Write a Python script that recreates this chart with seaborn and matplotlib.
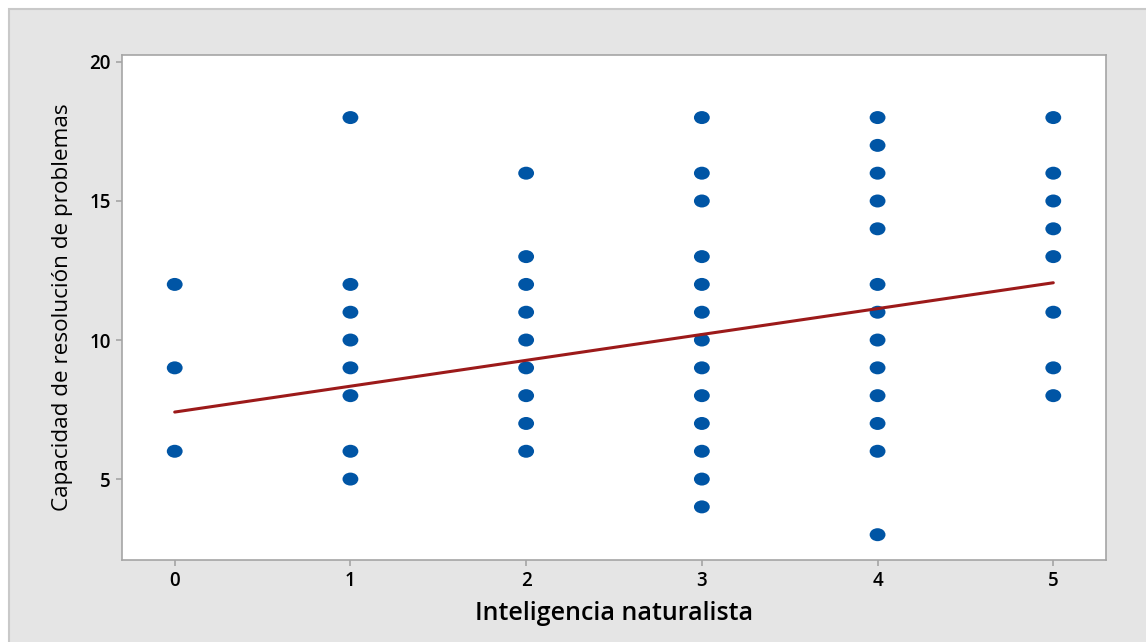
import numpy as np
import pandas as pd
import matplotlib
matplotlib.use("Agg")
import matplotlib.pyplot as plt
from matplotlib.path import Path
from matplotlib.transforms import Affine2D
from matplotlib.patches import Rectangle
import seaborn as sns

# Observed scores (duplicated pairs coincide on the plot)
naturalista_0 = [12, 9, 6]
naturalista_1 = [18, 12, 11, 10, 9, 8, 6, 5]
naturalista_2 = [16, 13, 12, 11, 10, 9, 8, 7, 6]
naturalista_3 = [18, 16, 15, 13, 12, 11, 10, 9, 8, 7, 6, 5, 4]
naturalista_4 = [18, 17, 16, 15, 14, 12, 11, 10, 9, 8, 7, 6, 3]
naturalista_5 = [18, 16, 15, 14, 13, 11, 9, 8]

# Fitted regression line: y = intercept + slope * x
fit_intercept = 7.41
fit_slope = 0.93

x_ticks = [0, 1, 2, 3, 4, 5]
y_ticks = [5, 10, 15, 20]

groups = [naturalista_0, naturalista_1, naturalista_2,
          naturalista_3, naturalista_4, naturalista_5]
df = pd.DataFrame(
    [(x, y) for x, ys in zip(x_ticks, groups) for y in ys],
    columns=["Inteligencia naturalista", "Capacidad de resolución de problemas"],
)
fit_x = np.array([x_ticks[0], x_ticks[-1]], dtype=float)
fit_df = pd.DataFrame({"x": fit_x, "y": fit_intercept + fit_slope * fit_x})

sns.set_style("white")
plt.rcParams["font.family"] = ["Open Sans", "DejaVu Sans"]

fig = plt.figure(figsize=(11.46, 6.42), dpi=100, facecolor="white")
# grey panel behind the chart
fig.patches.append(Rectangle((9 / 1146, -0.05), 1.1, 1.05 - 9 / 642,
                             transform=fig.transFigure, facecolor="#e5e5e5",
                             edgecolor="#c9c9c9", linewidth=1.5, zorder=-1))

ax = fig.add_axes([122 / 1146, 1 - 560 / 642, (1106 - 122) / 1146, (560 - 55) / 642])
ax.set_facecolor("white")

# slightly wide elliptical marker
ellipse = Path.unit_circle().transformed(Affine2D().scale(1.22, 1.0))

sns.scatterplot(data=df, x="Inteligencia naturalista",
                y="Capacidad de resolución de problemas",
                marker=ellipse, s=130, color="#0055a5", edgecolor="none",
                linewidth=0, ax=ax, zorder=3)
sns.lineplot(data=fit_df, x="x", y="y", color="#9c1a1a", linewidth=2.2,
             ax=ax, zorder=4)

ax.set_xlim(-0.30, 5.30)
ax.set_ylim(2.09, 20.25)
ax.set_xticks(x_ticks)
ax.set_yticks(y_ticks)

for s in ax.spines.values():
    s.set_color("#a5a5a5")
    s.set_linewidth(1.2)
ax.tick_params(axis="both", which="major", direction="out", length=4,
               width=1.2, color="#a5a5a5", labelsize=13.5, labelcolor="black",
               pad=4, bottom=True, left=True)
for lab in ax.get_xticklabels() + ax.get_yticklabels():
    lab.set_fontweight("semibold")

ax.set_xlabel("Inteligencia naturalista", fontsize=18, fontweight="semibold",
              color="black", labelpad=7)
ax.set_ylabel("Capacidad de resolución de problemas", fontsize=16.2,
              color="black", labelpad=12)

fig.savefig("out.png", dpi=100, facecolor=fig.get_facecolor())
